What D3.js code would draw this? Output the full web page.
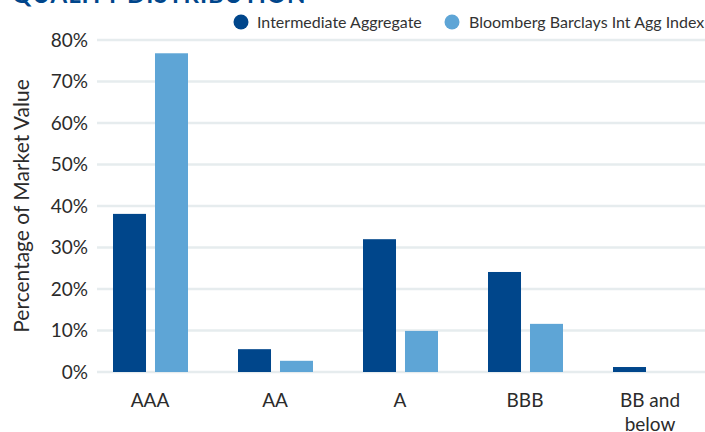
<!DOCTYPE html>
<html>
<head>
<meta charset="utf-8">
<script src="https://cdn.jsdelivr.net/npm/d3@7"></script>
<style>
  body { margin: 0; background: #fff; }
  svg { display: block; font-family: Lato, 'Open Sans', sans-serif; }
</style>
</head>
<body>
<div id="chart"></div>
<script>
const categories = ['AAA', 'AA', 'A', 'BBB', 'BB and below'];
const seriesNames = ['Intermediate Aggregate', 'Bloomberg Barclays Int Agg Index'];
const intermediateAggregate = [38.1, 5.5, 32.0, 24.1, 1.2];
const barclaysIndex = [76.8, 2.7, 9.9, 11.6, 0];
const yTicks = [0, 10, 20, 30, 40, 50, 60, 70, 80];
const colors = ['#00468b', '#5ea5d6'];

const width = 705;
const height = 432;
const margin = { top: 40, right: 0, bottom: 60, left: 97 };

const svg = d3.select('#chart').append('svg')
  .attr('width', width)
  .attr('height', height);

// title, mostly cropped off the top
svg.append('text')
  .attr('x', 12)
  .attr('y', 3)
  .attr('fill', '#00468b')
  .attr('font-size', 24)
  .attr('font-weight', 700)
  .attr('letter-spacing', 0.9)
  .text('QUALITY DISTRIBUTION');

const y = d3.scaleLinear().domain([0, 80]).range([372, 40]);
const x0 = d3.scaleBand().domain(categories).range([88, 713]);
const x1 = d3.scaleBand().domain(seriesNames).range([25, 100]).paddingInner(0.214);

// gridlines
svg.append('g')
  .selectAll('line')
  .data(yTicks)
  .join('line')
  .attr('x1', margin.left)
  .attr('x2', width)
  .attr('y1', d => y(d))
  .attr('y2', d => y(d))
  .attr('stroke', '#e6ecee')
  .attr('stroke-width', 2.5);

// y axis labels
const yAxis = d3.axisLeft(y).tickValues(yTicks).tickFormat(d => `${d}%`).tickSize(0).tickPadding(0);
const yg = svg.append('g').attr('transform', 'translate(88,0)').call(yAxis);
yg.select('.domain').remove();
yg.selectAll('text')
  .attr('font-family', 'Lato, sans-serif')
  .attr('font-size', 19)
  .attr('fill', '#2b2b2b');

svg.append('text')
  .attr('transform', `translate(29,${y(40)}) rotate(-90)`)
  .attr('text-anchor', 'middle')
  .attr('font-size', 21)
  .attr('fill', '#2b2b2b')
  .text('Percentage of Market Value');

// bars
const rows = categories.map((c, i) => ({ cat: c, values: [intermediateAggregate[i], barclaysIndex[i]] }));
const groups = svg.append('g')
  .selectAll('g')
  .data(rows)
  .join('g')
  .attr('transform', d => `translate(${x0(d.cat)},0)`);

groups.selectAll('rect')
  .data(d => d.values.map((v, i) => ({ name: seriesNames[i], value: v, idx: i })))
  .join('rect')
  .attr('x', d => x1(d.name))
  .attr('width', x1.bandwidth())
  .attr('y', d => y(d.value))
  .attr('height', d => y(0) - y(d.value))
  .attr('fill', d => colors[d.idx]);

// x labels
const xl = svg.append('g')
  .selectAll('text')
  .data(categories)
  .join('text')
  .attr('x', d => x0(d) + x0.bandwidth() / 2 - 0.5)
  .attr('y', 407)
  .attr('text-anchor', 'middle')
  .attr('font-size', 19)
  .attr('fill', '#2b2b2b');
xl.each(function (d) {
  const words = d === 'BB and below' ? ['BB and', 'below'] : [d];
  d3.select(this).selectAll('tspan')
    .data(words)
    .join('tspan')
    .attr('x', x0(d) + x0.bandwidth() / 2 - 0.5)
    .attr('dy', (w, i) => (i === 0 ? 0 : 24))
    .text(w => w);
});

// legend
const legendPos = [{ cx: 241, tx: 257 }, { cx: 452, tx: 469 }];
const lg = svg.append('g')
  .selectAll('g')
  .data(seriesNames)
  .join('g');
lg.append('circle')
  .attr('cx', (d, i) => legendPos[i].cx)
  .attr('cy', 22)
  .attr('r', 7.5)
  .attr('fill', (d, i) => colors[i]);
lg.append('text')
  .attr('x', (d, i) => legendPos[i].tx)
  .attr('y', 28)
  .attr('font-size', 16)
  .attr('fill', '#333')
  .text(d => d);
</script>
</body>
</html>
